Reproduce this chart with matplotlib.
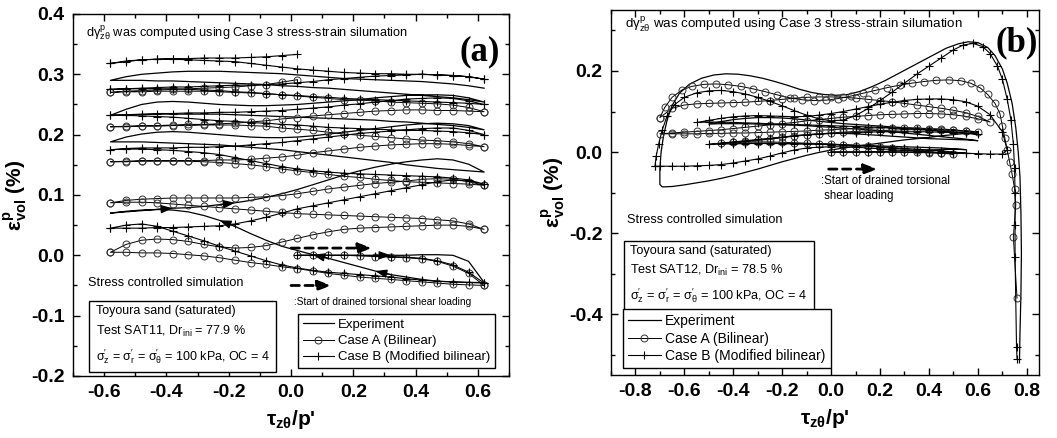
import numpy as np
import matplotlib
matplotlib.use('Agg')
import matplotlib.pyplot as plt
from matplotlib.ticker import MultipleLocator, FormatStrFormatter

plt.rcParams['font.family'] = ['Liberation Sans', 'DejaVu Sans']
plt.rcParams['mathtext.fontset'] = 'custom'
plt.rcParams['mathtext.rm'] = 'Liberation Sans'
plt.rcParams['mathtext.it'] = 'Liberation Sans:italic'
plt.rcParams['mathtext.bf'] = 'Liberation Sans:bold'
plt.rcParams['axes.unicode_minus'] = False

# ---------------- panel (a): test SAT11 ----------------
# stress ratio grid shared by every half cycle of panel (a)
tauA = [-0.58, -0.53, -0.48, -0.43, -0.38, -0.33, -0.28, -0.23, -0.18, -0.13, -0.08, -0.03,
        0.02, 0.07, 0.12, 0.17, 0.22, 0.27, 0.32, 0.37, 0.42, 0.47, 0.52, 0.57, 0.62]

# each row = one half cycle, in the order it was travelled (right, left, right, ...)
expA = [
    [0.0, 0.0, 0.0, 0.0, 0.0, 0.0, 0.0, 0.0, 0.001, 0.001, 0.0, -0.01, -0.045],
    [-0.045, -0.045, -0.044, -0.043, -0.04, -0.036, -0.032, -0.026, -0.019, -0.012, -0.005, 0.001, 0.008,
     0.015, 0.025, 0.036, 0.048, 0.058, 0.066, 0.072, 0.075, 0.076, 0.075, 0.073, 0.07],
    [0.07, 0.072, 0.074, 0.076, 0.078, 0.079, 0.081, 0.084, 0.087, 0.091, 0.096, 0.102, 0.109,
     0.117, 0.125, 0.133, 0.14, 0.146, 0.151, 0.155, 0.158, 0.16, 0.158, 0.151, 0.138],
    [0.138, 0.14, 0.142, 0.144, 0.147, 0.15, 0.154, 0.157, 0.16, 0.163, 0.166, 0.169, 0.172,
     0.175, 0.177, 0.179, 0.181, 0.183, 0.184, 0.185, 0.186, 0.187, 0.188, 0.188, 0.188],
    [0.188, 0.196, 0.201, 0.204, 0.205, 0.204, 0.202, 0.2, 0.198, 0.196, 0.195, 0.195, 0.196,
     0.198, 0.201, 0.204, 0.207, 0.21, 0.213, 0.216, 0.218, 0.219, 0.218, 0.215, 0.208],
    [0.208, 0.212, 0.215, 0.217, 0.219, 0.221, 0.222, 0.224, 0.225, 0.226, 0.227, 0.228, 0.229,
     0.23, 0.231, 0.232, 0.233, 0.234, 0.234, 0.234, 0.234, 0.234, 0.233, 0.233, 0.232],
    [0.232, 0.242, 0.25, 0.254, 0.255, 0.254, 0.252, 0.25, 0.249, 0.248, 0.248, 0.249, 0.25,
     0.252, 0.254, 0.256, 0.258, 0.261, 0.263, 0.265, 0.266, 0.266, 0.265, 0.261, 0.254],
    [0.254, 0.258, 0.261, 0.263, 0.265, 0.267, 0.269, 0.271, 0.273, 0.275, 0.277, 0.278, 0.28,
     0.281, 0.283, 0.284, 0.285, 0.286, 0.287, 0.288, 0.289, 0.289, 0.29, 0.29, 0.29],
    [0.29, 0.296, 0.3, 0.302, 0.304, 0.305, 0.305, 0.305, 0.304, 0.303, 0.302, 0.301, 0.299,
     0.297, 0.295, 0.293, 0.292, 0.291, 0.29, 0.289, 0.288, 0.286, 0.284, 0.281, 0.277],
]
caseA_A = [
    [0.0, 0.0, 0.0, 0.0, -0.001, -0.002, -0.003, -0.004, -0.006, -0.01, -0.018, -0.03, -0.05],
    [-0.05, -0.049, -0.048, -0.046, -0.044, -0.042, -0.04, -0.038, -0.036, -0.033, -0.03, -0.026, -0.022,
     -0.019, -0.015, -0.012, -0.008, -0.004, -0.001, 0.001, 0.003, 0.004, 0.004, 0.005, 0.005],
    [0.005, 0.018, 0.025, 0.027, 0.026, 0.023, 0.018, 0.014, 0.012, 0.013, 0.016, 0.022, 0.028,
     0.034, 0.039, 0.043, 0.045, 0.046, 0.047, 0.048, 0.049, 0.05, 0.05, 0.048, 0.043],
    [0.043, 0.052, 0.057, 0.059, 0.061, 0.062, 0.063, 0.064, 0.065, 0.066, 0.067, 0.068, 0.069,
     0.071, 0.073, 0.075, 0.077, 0.079, 0.081, 0.083, 0.085, 0.087, 0.088, 0.088, 0.087],
    [0.087, 0.091, 0.093, 0.094, 0.095, 0.095, 0.095, 0.095, 0.095, 0.096, 0.097, 0.099, 0.102,
     0.106, 0.11, 0.113, 0.116, 0.119, 0.121, 0.123, 0.126, 0.127, 0.126, 0.122, 0.116],
    [0.116, 0.118, 0.119, 0.12, 0.121, 0.122, 0.124, 0.126, 0.129, 0.131, 0.134, 0.137, 0.14,
     0.143, 0.147, 0.15, 0.152, 0.154, 0.155, 0.156, 0.156, 0.156, 0.156, 0.155, 0.155],
    [0.155, 0.156, 0.157, 0.157, 0.157, 0.157, 0.157, 0.158, 0.158, 0.159, 0.161, 0.163, 0.166,
     0.17, 0.173, 0.176, 0.179, 0.181, 0.183, 0.184, 0.185, 0.185, 0.184, 0.182, 0.18],
    [0.18, 0.185, 0.188, 0.19, 0.191, 0.193, 0.195, 0.197, 0.199, 0.201, 0.204, 0.207, 0.209,
     0.211, 0.214, 0.215, 0.216, 0.216, 0.216, 0.215, 0.215, 0.214, 0.214, 0.213, 0.213],
    [0.213, 0.214, 0.215, 0.215, 0.216, 0.217, 0.217, 0.218, 0.219, 0.221, 0.223, 0.226, 0.228,
     0.231, 0.233, 0.235, 0.237, 0.239, 0.24, 0.241, 0.241, 0.24, 0.24, 0.239, 0.238],
    [0.238, 0.245, 0.249, 0.251, 0.252, 0.253, 0.254, 0.256, 0.257, 0.258, 0.26, 0.262, 0.264,
     0.266, 0.268, 0.269, 0.27, 0.271, 0.272, 0.272, 0.272, 0.272, 0.271, 0.271, 0.27],
    [0.27, 0.272, 0.273, 0.274, 0.275, 0.276, 0.277, 0.278, 0.279, 0.281, 0.283, 0.287, 0.291],
]
caseB_A = [
    [0.0, 0.0, 0.0, 0.0, 0.0, -0.001, -0.002, -0.003, -0.005, -0.009, -0.016, -0.028, -0.046],
    [-0.046, -0.045, -0.044, -0.043, -0.041, -0.039, -0.036, -0.034, -0.032, -0.03, -0.028, -0.025, -0.021,
     -0.016, -0.009, -0.001, 0.007, 0.015, 0.024, 0.032, 0.04, 0.048, 0.052, 0.05, 0.045],
    [0.045, 0.045, 0.045, 0.046, 0.046, 0.047, 0.048, 0.049, 0.052, 0.057, 0.063, 0.07, 0.077,
     0.082, 0.087, 0.092, 0.097, 0.102, 0.107, 0.112, 0.117, 0.122, 0.125, 0.123, 0.118],
    [0.118, 0.125, 0.128, 0.13, 0.131, 0.132, 0.133, 0.134, 0.135, 0.136, 0.138, 0.14, 0.143,
     0.147, 0.152, 0.157, 0.162, 0.167, 0.17, 0.172, 0.174, 0.175, 0.176, 0.176, 0.175],
    [0.175, 0.177, 0.178, 0.178, 0.178, 0.179, 0.179, 0.18, 0.181, 0.183, 0.185, 0.187, 0.19,
     0.193, 0.196, 0.199, 0.202, 0.204, 0.206, 0.208, 0.21, 0.211, 0.211, 0.207, 0.2],
    [0.2, 0.203, 0.205, 0.206, 0.207, 0.207, 0.208, 0.209, 0.21, 0.211, 0.212, 0.214, 0.216,
     0.217, 0.219, 0.22, 0.222, 0.223, 0.225, 0.227, 0.229, 0.23, 0.231, 0.232, 0.232],
    [0.232, 0.233, 0.234, 0.235, 0.235, 0.236, 0.236, 0.237, 0.237, 0.238, 0.239, 0.24, 0.242,
     0.244, 0.246, 0.249, 0.251, 0.254, 0.256, 0.259, 0.26, 0.261, 0.26, 0.256, 0.25],
    [0.25, 0.252, 0.253, 0.254, 0.255, 0.256, 0.257, 0.258, 0.259, 0.26, 0.262, 0.263, 0.265,
     0.266, 0.268, 0.27, 0.271, 0.273, 0.274, 0.275, 0.276, 0.276, 0.276, 0.276, 0.275],
    [0.275, 0.276, 0.277, 0.278, 0.279, 0.279, 0.28, 0.281, 0.282, 0.282, 0.283, 0.284, 0.286,
     0.288, 0.291, 0.293, 0.295, 0.297, 0.298, 0.299, 0.3, 0.299, 0.298, 0.296, 0.292],
    [0.292, 0.296, 0.298, 0.299, 0.3, 0.3, 0.301, 0.301, 0.302, 0.303, 0.305, 0.307, 0.309,
     0.312, 0.315, 0.318, 0.321, 0.322, 0.323, 0.324, 0.325, 0.325, 0.324, 0.321, 0.318],
    [0.318, 0.322, 0.324, 0.325, 0.326, 0.326, 0.327, 0.327, 0.327, 0.328, 0.329, 0.331, 0.333],
]
# points of the experiment path where a direction arrow is drawn
expA_arrows = [5, 19, 23, 29, 41, 45]

# ---------------- panel (b): test SAT12 ----------------
expB_tau = [
    [0.00, 0.05, 0.10, 0.15, 0.20, 0.25, 0.30, 0.35, 0.40, 0.45, 0.50, 0.55],
    [0.50, 0.45, 0.40, 0.35, 0.30, 0.25, 0.20, 0.15, 0.10, 0.05, 0.00, -0.05, -0.10, -0.15, -0.20, -0.25,
     -0.30, -0.35, -0.40, -0.45],
    [-0.40, -0.35, -0.30, -0.25, -0.20, -0.15, -0.10, -0.05, 0.00, 0.05, 0.10, 0.15, 0.20, 0.25, 0.30, 0.35,
     0.40, 0.45, 0.50, 0.55, 0.60],
    [0.55, 0.50, 0.45, 0.40, 0.35, 0.30, 0.25, 0.20, 0.15, 0.10, 0.05, 0.00, -0.05, -0.10, -0.15, -0.20,
     -0.25, -0.30, -0.35, -0.40, -0.45, -0.50],
    [-0.45, -0.40, -0.35, -0.30, -0.25, -0.20, -0.15, -0.10, -0.05, 0.00, 0.05, 0.10, 0.15, 0.20, 0.25, 0.30,
     0.35, 0.40, 0.45, 0.50, 0.55, 0.60],
    [0.55, 0.50, 0.45, 0.40, 0.35, 0.30, 0.25, 0.20, 0.15, 0.10, 0.05, 0.00, -0.05, -0.10, -0.15, -0.20,
     -0.25, -0.30, -0.35, -0.40, -0.45, -0.50, -0.55, -0.60, -0.65, -0.69],
    [-0.70, -0.70, -0.695, -0.685, -0.67, -0.65, -0.62, -0.58, -0.53, -0.48, -0.43, -0.38, -0.33, -0.28, -0.23,
     -0.18, -0.13, -0.08, -0.03, 0.02, 0.07, 0.12, 0.17, 0.22, 0.27, 0.32, 0.37, 0.42, 0.47, 0.52, 0.56,
     0.60, 0.64, 0.67, 0.70, 0.72, 0.74, 0.755, 0.765, 0.772, 0.776, 0.778, 0.776, 0.772, 0.77],
]
expB_eps = [
    [0.000, 0.000, 0.000, 0.001, 0.001, 0.002, 0.003, 0.004, 0.005, 0.006, 0.007, 0.006],
    [0.008, 0.010, 0.011, 0.012, 0.013, 0.014, 0.015, 0.016, 0.017, 0.018, 0.019, 0.020, 0.020, 0.021,
     0.021, 0.022, 0.022, 0.022, 0.022, 0.022],
    [0.024, 0.026, 0.029, 0.032, 0.036, 0.040, 0.043, 0.045, 0.046, 0.046, 0.045, 0.043, 0.041, 0.039,
     0.037, 0.035, 0.033, 0.032, 0.031, 0.030, 0.028],
    [0.032, 0.035, 0.038, 0.041, 0.044, 0.047, 0.050, 0.053, 0.055, 0.057, 0.059, 0.061, 0.063, 0.065,
     0.066, 0.067, 0.068, 0.069, 0.070, 0.070, 0.070, 0.069],
    [0.075, 0.080, 0.083, 0.085, 0.085, 0.084, 0.082, 0.079, 0.076, 0.073, 0.070, 0.068, 0.066, 0.064,
     0.062, 0.060, 0.058, 0.056, 0.055, 0.053, 0.051, 0.048],
    [0.046, 0.043, 0.040, 0.036, 0.033, 0.030, 0.026, 0.022, 0.018, 0.014, 0.010, 0.005, -0.001, -0.008,
     -0.016, -0.024, -0.033, -0.042, -0.050, -0.058, -0.065, -0.071, -0.076, -0.081, -0.085, -0.086],
    [-0.08, -0.04, 0.0, 0.04, 0.08, 0.115, 0.145, 0.167, 0.182, 0.19, 0.193, 0.192, 0.188, 0.182, 0.174,
     0.165, 0.155, 0.147, 0.142, 0.14, 0.142, 0.15, 0.162, 0.176, 0.192, 0.208, 0.224, 0.24, 0.256, 0.267,
     0.272, 0.27, 0.258, 0.238, 0.205, 0.17, 0.12, 0.06, 0.0, -0.06, -0.15, -0.25, -0.35, -0.45, -0.52],
]
caseA_B_tau = [
    [0.00, 0.05, 0.10, 0.15, 0.20, 0.25, 0.30, 0.35, 0.40, 0.45, 0.50],
    [0.45, 0.40, 0.35, 0.30, 0.25, 0.20, 0.15, 0.10, 0.05, 0.00, -0.05, -0.10, -0.15, -0.20, -0.25, -0.30,
     -0.35, -0.40, -0.45],
    [-0.40, -0.35, -0.30, -0.25, -0.20, -0.15, -0.10, -0.05, 0.00, 0.05, 0.10, 0.15, 0.20, 0.25, 0.30, 0.35,
     0.40, 0.45, 0.50, 0.55, 0.60],
    [0.55, 0.50, 0.45, 0.40, 0.35, 0.30, 0.25, 0.20, 0.15, 0.10, 0.05, 0.00, -0.05, -0.10, -0.15, -0.20,
     -0.25, -0.30, -0.35, -0.40, -0.45, -0.50, -0.55, -0.60, -0.65, -0.70],
    [-0.65, -0.60, -0.55, -0.50, -0.45, -0.40, -0.35, -0.30, -0.25, -0.20, -0.15, -0.10, -0.05, 0.00, 0.05,
     0.10, 0.15, 0.20, 0.25, 0.30, 0.35, 0.40, 0.45, 0.50, 0.55, 0.60, 0.65],
    [0.60, 0.55, 0.50, 0.45, 0.40, 0.35, 0.30, 0.25, 0.20, 0.15, 0.10, 0.05, 0.00, -0.05, -0.10, -0.15,
     -0.20, -0.25, -0.30, -0.35, -0.40, -0.45, -0.50, -0.55, -0.60, -0.65, -0.70],
    [-0.70, -0.68, -0.65, -0.61, -0.57, -0.52, -0.47, -0.42, -0.37, -0.32, -0.27, -0.22, -0.17, -0.12, -0.07,
     -0.02, 0.03, 0.08, 0.13, 0.18, 0.23, 0.28, 0.33, 0.38, 0.43, 0.48, 0.53, 0.57, 0.61, 0.64, 0.67, 0.69,
     0.70, 0.71, 0.72, 0.73, 0.74, 0.75, 0.755, 0.745, 0.76],
]
caseA_B_eps = [
    [0.000, 0.000, 0.000, 0.000, 0.000, 0.000, -0.001, -0.001, -0.002, -0.003, -0.005],
    [-0.002, 0.001, 0.004, 0.007, 0.010, 0.012, 0.014, 0.016, 0.018, 0.020, 0.021, 0.022, 0.023, 0.024,
     0.025, 0.025, 0.025, 0.024, 0.022],
    [0.024, 0.027, 0.030, 0.033, 0.036, 0.039, 0.042, 0.045, 0.047, 0.049, 0.051, 0.052, 0.053, 0.054,
     0.055, 0.055, 0.055, 0.055, 0.054, 0.052, 0.050],
    [0.052, 0.055, 0.057, 0.058, 0.059, 0.060, 0.060, 0.060, 0.059, 0.058, 0.057, 0.055, 0.054, 0.052,
     0.051, 0.050, 0.049, 0.048, 0.047, 0.047, 0.046, 0.046, 0.045, 0.045, 0.045, 0.045],
    [0.047, 0.049, 0.051, 0.053, 0.055, 0.058, 0.061, 0.064, 0.067, 0.070, 0.073, 0.077, 0.080, 0.083,
     0.086, 0.088, 0.090, 0.092, 0.093, 0.094, 0.095, 0.095, 0.094, 0.092, 0.088, 0.082, 0.074],
    [0.088, 0.097, 0.103, 0.108, 0.112, 0.116, 0.120, 0.124, 0.127, 0.130, 0.133, 0.135, 0.136, 0.136,
     0.135, 0.133, 0.130, 0.127, 0.125, 0.123, 0.122, 0.121, 0.120, 0.119, 0.116, 0.108, 0.085],
    [0.085, 0.11, 0.135, 0.153, 0.162, 0.167, 0.168, 0.166, 0.162, 0.156, 0.149, 0.141, 0.134, 0.129,
     0.127, 0.128, 0.132, 0.138, 0.145, 0.152, 0.159, 0.165, 0.170, 0.174, 0.177, 0.178, 0.176, 0.170,
     0.158, 0.142, 0.12, 0.095, 0.065, 0.035, 0.005, -0.025, -0.055, -0.09, -0.13, -0.21, -0.36],
]
caseB_B_tau = [
    [0.00, 0.05, 0.10, 0.15, 0.20, 0.25, 0.30, 0.35, 0.40, 0.45, 0.50, 0.55],
    [0.50, 0.45, 0.40, 0.35, 0.30, 0.25, 0.20, 0.15, 0.10, 0.05, 0.00, -0.05, -0.10, -0.15, -0.20, -0.25,
     -0.30, -0.35, -0.40, -0.45, -0.50],
    [-0.45, -0.40, -0.35, -0.30, -0.25, -0.20, -0.15, -0.10, -0.05, 0.00, 0.05, 0.10, 0.15, 0.20, 0.25, 0.30,
     0.35, 0.40, 0.45, 0.50, 0.55, 0.60],
    [0.55, 0.50, 0.45, 0.40, 0.35, 0.30, 0.25, 0.20, 0.15, 0.10, 0.05, 0.00, -0.05, -0.10, -0.15, -0.20,
     -0.25, -0.30, -0.35, -0.40, -0.45, -0.50, -0.55],
    [-0.50, -0.45, -0.40, -0.35, -0.30, -0.25, -0.20, -0.15, -0.10, -0.05, 0.00, 0.05, 0.10, 0.15, 0.20,
     0.25, 0.30, 0.35, 0.40, 0.45, 0.50, 0.55, 0.60, 0.65, 0.70, 0.72],
    [0.70, 0.65, 0.60, 0.55, 0.50, 0.45, 0.40, 0.35, 0.30, 0.25, 0.20, 0.15, 0.10, 0.05, 0.00, -0.05, -0.10,
     -0.15, -0.20, -0.25, -0.30, -0.35, -0.40, -0.45, -0.50, -0.55, -0.60, -0.65, -0.70, -0.72],
    [-0.72, -0.715, -0.705, -0.69, -0.67, -0.64, -0.60, -0.55, -0.50, -0.45, -0.40, -0.35, -0.30, -0.25,
     -0.20, -0.15, -0.10, -0.05, 0.00, 0.05, 0.10, 0.15, 0.20, 0.25, 0.30, 0.35, 0.40, 0.45, 0.50, 0.54,
     0.58, 0.62, 0.65, 0.68, 0.70, 0.72, 0.735, 0.745, 0.75, 0.752, 0.752, 0.752, 0.758, 0.76],
]
caseB_B_eps = [
    [0.000, 0.000, 0.000, 0.000, 0.000, 0.000, 0.000, -0.001, -0.001, -0.002, -0.002, -0.003],
    [0.000, 0.003, 0.005, 0.007, 0.009, 0.011, 0.013, 0.015, 0.016, 0.017, 0.018, 0.019, 0.020, 0.020,
     0.021, 0.021, 0.021, 0.021, 0.020, 0.020, 0.019],
    [0.022, 0.025, 0.028, 0.031, 0.034, 0.037, 0.040, 0.042, 0.044, 0.046, 0.047, 0.048, 0.049, 0.050,
     0.050, 0.050, 0.050, 0.050, 0.049, 0.048, 0.046, 0.044],
    [0.047, 0.050, 0.052, 0.054, 0.056, 0.058, 0.059, 0.061, 0.062, 0.063, 0.064, 0.065, 0.066, 0.067,
     0.068, 0.069, 0.070, 0.071, 0.072, 0.073, 0.074, 0.074, 0.073],
    [0.078, 0.083, 0.087, 0.089, 0.090, 0.089, 0.088, 0.087, 0.088, 0.091, 0.095, 0.100, 0.106, 0.112,
     0.118, 0.123, 0.127, 0.130, 0.131, 0.131, 0.129, 0.124, 0.113, 0.092, 0.050, 0.005],
    [-0.005, -0.005, -0.004, -0.003, -0.002, -0.001, 0.000, 0.002, 0.004, 0.006, 0.008, 0.010, 0.012,
     0.013, 0.013, 0.012, 0.010, 0.005, -0.002, -0.010, -0.017, -0.022, -0.027, -0.031, -0.033, -0.034,
     -0.035, -0.035, -0.035, -0.035],
    [-0.035, -0.01, 0.02, 0.055, 0.09, 0.117, 0.135, 0.146, 0.151, 0.152, 0.149, 0.143, 0.135, 0.125,
     0.114, 0.102, 0.091, 0.082, 0.077, 0.079, 0.09, 0.107, 0.127, 0.148, 0.17, 0.192, 0.212, 0.232,
     0.252, 0.264, 0.268, 0.26, 0.243, 0.212, 0.18, 0.13, 0.08, 0.02, -0.04, -0.1, -0.18, -0.26, -0.48,
     -0.51],
]

legendLabels = ['Experiment', 'Case A (Bilinear)', 'Case B (Modified bilinear)']
noteText = 'd\u03b3$^{\\rm p}_{\\rm z\u03b8}$ was computed using Case 3 stress-strain silumation'
boxTextA = ('Toyoura sand (saturated)\nTest SAT11, Dr$_{\\rm ini}$ = 77.9 %\n'
            '\u03c3$^{\\prime}_{\\rm z}$ = \u03c3$^{\\prime}_{\\rm r}$ = \u03c3$^{\\prime}_{\\rm \u03b8}$ = 100 kPa, OC = 4')
boxTextB = ('Toyoura sand (saturated)\nTest SAT12, Dr$_{\\rm ini}$ = 78.5 %\n'
            '\u03c3$^{\\prime}_{\\rm z}$ = \u03c3$^{\\prime}_{\\rm r}$ = \u03c3$^{\\prime}_{\\rm \u03b8}$ = 100 kPa, OC = 4')


def buildPath(grid, sweeps):
    # half cycles alternate direction; first one ends at the right end of the grid
    xs, ys = [], []
    for k, yv in enumerate(sweeps):
        n = len(yv)
        if k % 2 == 1:
            xg = grid[::-1][:n]
        elif k == 0:
            xg = grid[-n:]
        else:
            xg = grid[:n]
        xs.extend(xg)
        ys.extend(yv)
    return np.array(xs), np.array(ys)


def joinSweeps(xSweeps, ySweeps):
    xs, ys = [], []
    for xv, yv in zip(xSweeps, ySweeps):
        xs.extend(xv)
        ys.extend(yv)
    return np.array(xs), np.array(ys)


def drawCurves(ax, exp, caseA, caseB):
    lines = []
    lines += ax.plot(exp[0], exp[1], '-', color='black', lw=0.9, zorder=3)
    lines += ax.plot(caseA[0], caseA[1], '-', color='black', lw=0.7, marker='o', ms=5,
                     mfc='none', mec='#333333', mew=0.7, zorder=4)
    lines += ax.plot(caseB[0], caseB[1], '-', color='black', lw=0.8, marker='+', ms=6,
                     mew=0.8, zorder=5)
    return lines


def styleAxes(ax, xlim, ylim, ymaj):
    ax.set_xlim(xlim)
    ax.set_ylim(ylim)
    ax.xaxis.set_major_locator(MultipleLocator(0.2))
    ax.xaxis.set_minor_locator(MultipleLocator(0.1))
    ax.yaxis.set_major_locator(MultipleLocator(ymaj))
    ax.yaxis.set_minor_locator(MultipleLocator(ymaj / 2))
    ax.xaxis.set_major_formatter(FormatStrFormatter('%.1f'))
    ax.yaxis.set_major_formatter(FormatStrFormatter('%.1f'))
    ax.tick_params(which='both', direction='in', top=True, right=True, width=1)
    ax.tick_params(which='major', length=5, labelsize=14, pad=6)
    ax.tick_params(which='minor', length=3)
    for lbl in ax.get_xticklabels() + ax.get_yticklabels():
        lbl.set_fontweight('bold')
    for sp in ax.spines.values():
        sp.set_linewidth(1.0)
    ax.set_xlabel('\u03c4$_{\\mathbf{z\u03b8}}$/p\'', fontsize=15, fontweight='bold', labelpad=5)
    ax.set_ylabel('\u03b5$^{\\mathbf{p}}_{\\mathbf{vol}}$ (%)', fontsize=15, fontweight='bold', labelpad=1)


fig = plt.figure(figsize=(10.57, 4.38), dpi=100)
axA = fig.add_axes([0.0691, 0.1416, 0.4125, 0.8265])
axB = fig.add_axes([0.578, 0.1438, 0.405, 0.833])

# ---- panel (a)
expPathA = buildPath(tauA, expA)
linesA = drawCurves(axA, expPathA, buildPath(tauA, caseA_A), buildPath(tauA, caseB_A))
for i in expA_arrows:
    axA.annotate('', xy=(expPathA[0][i + 1], expPathA[1][i + 1]),
                 xytext=(expPathA[0][i], expPathA[1][i]),
                 arrowprops=dict(arrowstyle='-|>,head_length=0.7,head_width=0.25', color='black',
                                 lw=0.9, shrinkA=0, shrinkB=0), zorder=6)
styleAxes(axA, (-0.7, 0.7), (-0.2, 0.4), 0.1)

axA.text(0.03, 0.947, noteText, transform=axA.transAxes, fontsize=9.2, va='center')
axA.text(0.98, 0.895, '(a)', transform=axA.transAxes, fontsize=25, fontweight='bold',
         family=['Liberation Serif'], ha='right', va='center')
axA.text(0.034, 0.257, 'Stress controlled simulation', transform=axA.transAxes, fontsize=9.1, va='center')
axA.text(0.052, 0.197, boxTextA, transform=axA.transAxes, fontsize=9, va='top', linespacing=1.65,
         bbox=dict(boxstyle='square,pad=0.5', fc='white', ec='black', lw=1))
axA.annotate('', xy=(0.26, 0.012), xytext=(0.0, 0.012),
             arrowprops=dict(arrowstyle='-|>,head_length=0.8,head_width=0.3', color='black', lw=2,
                             ls=(0, (3, 2)), shrinkA=0, shrinkB=0))
axA.annotate('', xy=(0.13, -0.05), xytext=(0.0, -0.05),
             arrowprops=dict(arrowstyle='-|>,head_length=0.8,head_width=0.3', color='black', lw=2,
                             ls=(0, (3, 2)), shrinkA=0, shrinkB=0))
axA.text(0.01, -0.078, ':Start of drained torsional shear loading', fontsize=7.3, va='center')
legA = axA.legend(linesA, legendLabels, loc='lower right', bbox_to_anchor=(0.968, 0.022),
                  borderaxespad=0, fancybox=False, edgecolor='black', framealpha=1, fontsize=9.5,
                  handlelength=2.4, handletextpad=0.3, borderpad=0.35, labelspacing=0.3, numpoints=1)
legA.get_frame().set_linewidth(1)

# ---- panel (b)
linesB = drawCurves(axB, joinSweeps(expB_tau, expB_eps), joinSweeps(caseA_B_tau, caseA_B_eps),
                    joinSweeps(caseB_B_tau, caseB_B_eps))
styleAxes(axB, (-0.9, 0.85), (-0.55, 0.35), 0.2)

axB.text(0.033, 0.962, noteText, transform=axB.transAxes, fontsize=9.6, va='center')
axB.text(0.997, 0.91, '(b)', transform=axB.transAxes, fontsize=25, fontweight='bold',
         family=['Liberation Serif'], ha='right', va='center')
axB.text(0.037, 0.425, 'Stress controlled simulation', transform=axB.transAxes, fontsize=9.1, va='center')
axB.text(0.045, 0.357, boxTextB, transform=axB.transAxes, fontsize=9.2, va='top', linespacing=1.6,
         bbox=dict(boxstyle='square,pad=0.5', fc='white', ec='black', lw=1))
axB.annotate('', xy=(0.19, -0.042), xytext=(-0.01, -0.042),
             arrowprops=dict(arrowstyle='-|>,head_length=0.8,head_width=0.3', color='black', lw=2,
                             ls=(0, (3, 2)), shrinkA=0, shrinkB=0))
axB.text(-0.04, -0.09, ':Start of drained torsional\n shear loading', fontsize=8.3, va='center',
         linespacing=1.4)
legB = axB.legend(linesB, legendLabels, loc='lower left', bbox_to_anchor=(0.028, 0.019),
                  borderaxespad=0, fancybox=False, edgecolor='black', framealpha=1, fontsize=10,
                  handlelength=2.4, handletextpad=0.3, borderpad=0.35, labelspacing=0.25, numpoints=1)
legB.get_frame().set_linewidth(1)

fig.savefig('out.png', dpi=100)
